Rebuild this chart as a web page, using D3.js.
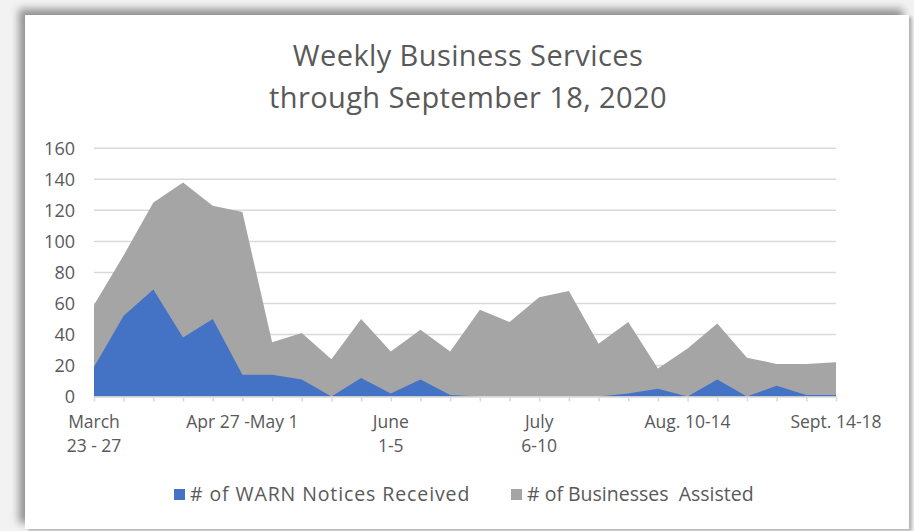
<!DOCTYPE html>
<html>
<head>
    <title>Weekly Business Services</title>
    <script src="https://d3js.org/d3.v7.min.js"></script>
    <style>
        body {
            margin: 0;
            background: #f2f2f2;
            font-family: "Open Sans", Arial, sans-serif;
        }
        .frame {
            position: absolute;
            left: 25px;
            top: 15px;
            width: 884px;
            height: 514px;
            background: white;
            box-shadow: -6px -6px 8px rgba(0,0,0,0.4), 3px 2px 3px rgba(0,0,0,0.25);
        }
        #chart { position: absolute; left: 0; top: 0; }
    </style>
</head>
<body>
    <div class="frame"></div>
    <div id="chart"></div>

<script>
// week starting dates (Mon) from March 23 to Sept 14, 2020
const weeks = ["Mar 23", "Mar 30", "Apr 6", "Apr 13", "Apr 20", "Apr 27", "May 4", "May 11",
    "May 18", "May 25", "Jun 1", "Jun 8", "Jun 15", "Jun 22", "Jun 29", "Jul 6", "Jul 13",
    "Jul 20", "Jul 27", "Aug 3", "Aug 10", "Aug 17", "Aug 24", "Aug 31", "Sep 7", "Sep 14"];

// # of Businesses Assisted
const assisted = [59, 91, 125, 138, 123, 119, 35, 41, 24, 50, 29, 43, 29, 56, 48, 64, 68,
    34, 48, 18, 31, 47, 25, 21, 21, 22];

// # of WARN Notices Received
const warn = [19, 52, 69, 38, 50, 14, 14, 11, 0, 12, 2, 11, 1, 0, 0, 0, 0,
    0, 2, 5, 0, 11, 0, 7, 1, 1];

// which weeks get a label, and the label lines
const tickWeeks = ["Mar 23", "Apr 27", "Jun 1", "Jul 6", "Aug 10", "Sep 14"];
const tickLabels = [["March", "23 - 27"], ["Apr 27 -May 1"], ["June", "1-5"],
    ["July", "6-10"], ["Aug. 10-14"], ["Sept. 14-18"]];

const yTicks = [0, 20, 40, 60, 80, 100, 120, 140, 160];
const seriesNames = ["# of WARN Notices Received", "# of Businesses  Assisted"];
const colors = ["#4472c4", "#a5a5a5"];

const width = 914, height = 531;
const textColor = "#595959";

const svg = d3.select("#chart").append("svg")
    .attr("width", width)
    .attr("height", height);

const x = d3.scalePoint().domain(weeks).range([94, 836]);
const y = d3.scaleLinear().domain([0, 160]).range([396.5, 148.3]);

// title
svg.append("text")
    .attr("x", 468).attr("y", 66)
    .attr("text-anchor", "middle")
    .attr("font-size", 29)
    .attr("letter-spacing", 0.4)
    .attr("fill", textColor)
    .text("Weekly Business Services");
svg.append("text")
    .attr("x", 468).attr("y", 108)
    .attr("text-anchor", "middle")
    .attr("font-size", 29)
    .attr("letter-spacing", 0.4)
    .attr("fill", textColor)
    .text("through September 18, 2020");

// gridlines
svg.append("g")
    .selectAll("line")
    .data(yTicks.slice(1))
    .join("line")
    .attr("x1", 94).attr("x2", 836)
    .attr("y1", d => y(d)).attr("y2", d => y(d))
    .attr("stroke", "#d9d9d9")
    .attr("stroke-width", 1.5);

// y axis labels
const yAxis = svg.append("g")
    .attr("transform", "translate(79,0)")
    .call(d3.axisLeft(y).tickValues(yTicks).tickSize(0).tickPadding(4));
yAxis.select(".domain").remove();
yAxis.selectAll("text")
    .attr("font-family", "Open Sans")
    .attr("font-size", 18)
    .attr("fill", textColor);

// areas: businesses assisted behind, WARN notices in front
const area = d3.area()
    .x((d, i) => x(weeks[i]))
    .y0(y(0))
    .y1(d => y(d));

svg.append("path")
    .datum(assisted)
    .attr("d", area)
    .attr("fill", colors[1]);

svg.append("path")
    .datum(warn)
    .attr("d", area)
    .attr("fill", colors[0]);

// x axis
const xAxis = svg.append("g")
    .attr("transform", `translate(0,${y(0)})`)
    .call(d3.axisBottom(x).tickSize(5).tickSizeOuter(0).tickFormat(""));
xAxis.select(".domain").attr("stroke", "#d9d9d9").attr("stroke-width", 1.5);
xAxis.selectAll(".tick line").attr("stroke", "#d9d9d9").attr("stroke-width", 1.5);

const xLabels = svg.append("g")
    .selectAll("text")
    .data(tickWeeks)
    .join("text")
    .attr("x", d => x(d))
    .attr("y", 428)
    .attr("text-anchor", "middle")
    .attr("font-size", 17.5)
    .attr("fill", textColor);
xLabels.each(function(d, i) {
    d3.select(this).selectAll("tspan")
        .data(tickLabels[i])
        .join("tspan")
        .attr("x", x(d))
        .attr("dy", (t, j) => j === 0 ? 0 : 24)
        .text(t => t);
});

// legend
const legendX = [174, 511];
const legendSpacing = [0.9, 0];
const legend = svg.append("g")
    .selectAll("g")
    .data(seriesNames)
    .join("g")
    .attr("transform", (d, i) => `translate(${legendX[i]},489)`);
legend.append("rect")
    .attr("width", 11).attr("height", 11)
    .attr("fill", (d, i) => colors[i]);
legend.append("text")
    .attr("x", 16).attr("y", 12)
    .attr("font-size", 19.5)
    .attr("letter-spacing", (d, i) => legendSpacing[i])
    .style("white-space", "pre")
    .attr("fill", textColor)
    .text(d => d);
</script>
</body>
</html>
